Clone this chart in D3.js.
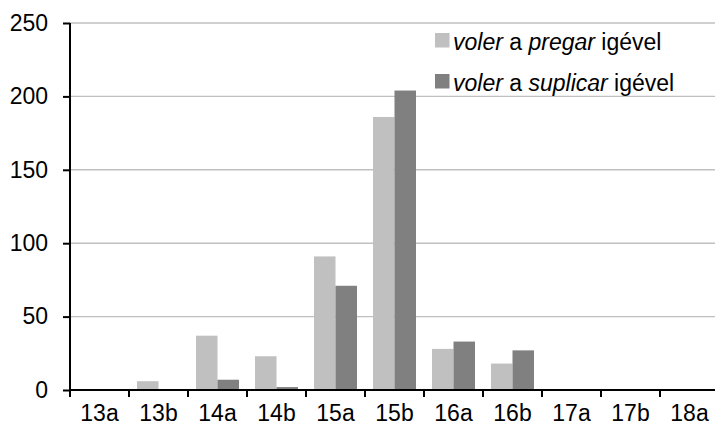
<!DOCTYPE html>
<html>
<head>
<meta charset="utf-8">
<script src="https://cdn.jsdelivr.net/npm/d3@7"></script>
<style>
  body { margin: 0; background: #fff; }
  svg { display: block; font-family: "Liberation Sans", Arial, sans-serif; }
</style>
</head>
<body>
<div id="chart"></div>
<script>
// data
var categories = ["13a", "13b", "14a", "14b", "15a", "15b", "16a", "16b", "17a", "17b", "18a"];
var seriesNames = ["pregar", "suplicar"];
var pregarValues = [0, 6, 37, 23, 91, 186, 28, 18, 0, 0, 0];
var suplicarValues = [0, 0, 7, 2, 71, 204, 33, 27, 0, 0, 0];
var yTicks = [0, 50, 100, 150, 200, 250];

var svgWidth = 715;
var svgHeight = 427;

var colors = { pregar: "#c0c0c0", suplicar: "#808080" };

var svg = d3.select("#chart")
  .append("svg")
  .attr("width", svgWidth)
  .attr("height", svgHeight);

// scales
var x0 = d3.scaleBand()
  .domain(categories)
  .range([70, 719])
  .padding(0);

var x1 = d3.scaleBand()
  .domain(seriesNames)
  .range([8, 51]);

var y = d3.scaleLinear()
  .domain([0, 250])
  .range([390, 23]);

// gridlines
svg.append("g")
  .selectAll("line")
  .data(yTicks.filter(d => d > 0))
  .enter()
  .append("line")
  .attr("x1", 70)
  .attr("x2", svgWidth)
  .attr("y1", d => y(d))
  .attr("y2", d => y(d))
  .attr("stroke", "#c0c0c0")
  .attr("stroke-width", 1.4);

// bars
var rows = categories.map(function(c, i) {
  return { cat: c, pregar: pregarValues[i], suplicar: suplicarValues[i] };
});

var groups = svg.append("g")
  .selectAll("g")
  .data(rows)
  .enter()
  .append("g")
  .attr("transform", d => `translate(${x0(d.cat)},0)`);

groups.selectAll("rect")
  .data(d => seriesNames.map(k => ({ key: k, value: d[k] })))
  .enter()
  .append("rect")
  .attr("x", d => x1(d.key))
  .attr("width", x1.bandwidth())
  .attr("y", d => y(d.value))
  .attr("height", d => y(0) - y(d.value))
  .attr("fill", d => colors[d.key]);

// y axis
var leftAxis = d3.axisLeft(y)
  .tickValues(yTicks)
  .tickSize(7)
  .tickPadding(15);

var yAxisG = svg.append("g")
  .attr("transform", "translate(70,0)")
  .call(leftAxis);

yAxisG.select(".domain").remove();
yAxisG.append("line")
  .attr("x1", 0).attr("x2", 0)
  .attr("y1", y(250)).attr("y2", y(0))
  .attr("stroke", "#000")
  .attr("stroke-width", 2);
yAxisG.selectAll(".tick line").attr("stroke", "#000").attr("stroke-width", 2);
yAxisG.selectAll("text")
  .attr("font-size", 23)
  .attr("fill", "#000")
  .attr("font-family", "Liberation Sans, Arial, sans-serif");

// x axis
var bottomAxis = d3.axisBottom(x0)
  .tickSize(0)
  .tickPadding(15);

var xAxisG = svg.append("g")
  .attr("transform", `translate(0,${y(0)})`)
  .call(bottomAxis);

xAxisG.select(".domain").remove();
xAxisG.append("line")
  .attr("x1", 69).attr("x2", svgWidth)
  .attr("y1", 0).attr("y2", 0)
  .attr("stroke", "#000")
  .attr("stroke-width", 2);

// category boundary ticks
xAxisG.selectAll(".bound")
  .data(categories)
  .enter()
  .append("line")
  .attr("class", "bound")
  .attr("x1", d => x0(d))
  .attr("x2", d => x0(d))
  .attr("y1", 0)
  .attr("y2", 7)
  .attr("stroke", "#000")
  .attr("stroke-width", 2);

xAxisG.selectAll(".tick text")
  .attr("font-size", 23)
  .attr("fill", "#000")
  .attr("font-family", "Liberation Sans, Arial, sans-serif");

// legend
var legendItems = [
  { key: "pregar", verb: "pregar" },
  { key: "suplicar", verb: "suplicar" }
];

var legend = svg.append("g")
  .attr("transform", "translate(435,33)");

legendItems.forEach(function(item, i) {
  var g = legend.append("g").attr("transform", `translate(0,${i * 41})`);
  g.append("rect")
    .attr("width", 14.5)
    .attr("height", 14.5)
    .attr("fill", colors[item.key]);
  var t = g.append("text")
    .attr("x", 18)
    .attr("y", 17)
    .attr("font-size", 23)
    .attr("fill", "#000");
  t.append("tspan").attr("font-style", "italic").text("voler");
  t.append("tspan").text(" a ");
  t.append("tspan").attr("font-style", "italic").text(item.verb);
  t.append("tspan").text(" igével");
});
</script>
</body>
</html>
